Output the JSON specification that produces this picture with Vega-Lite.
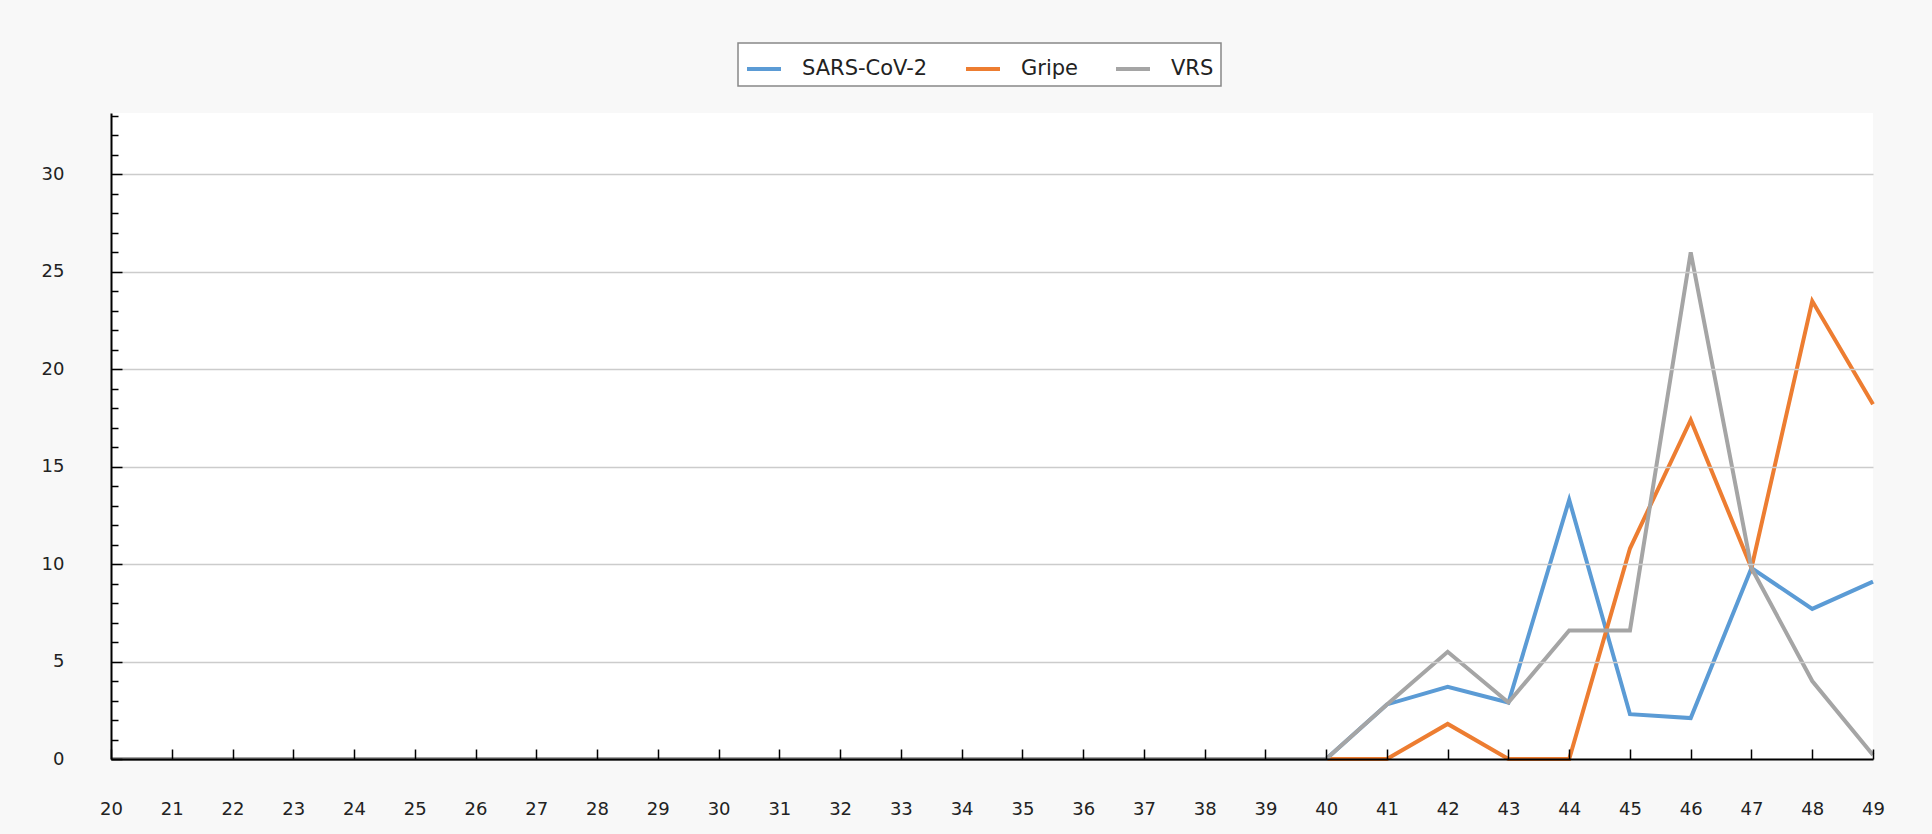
{
  "$schema": "https://vega.github.io/schema/vega-lite/v6.json",
  "width": 1762,
  "height": 646,
  "autosize": {"type": "none"},
  "padding": {"left": 111, "top": 113, "right": 59, "bottom": 75},
  "background": "#f8f8f8",
  "config": {
    "view": {"fill": "white", "stroke": null},
    "font": "DejaVu Sans",
    "legend": {"strokeWidth": 1.5}
  },
  "data": {"values": [
    {"semana": 20, "serie": "SARS-CoV-2", "valor": 0}, {"semana": 21, "serie": "SARS-CoV-2", "valor": 0}, {"semana": 22, "serie": "SARS-CoV-2", "valor": 0}, {"semana": 23, "serie": "SARS-CoV-2", "valor": 0}, {"semana": 24, "serie": "SARS-CoV-2", "valor": 0}, {"semana": 25, "serie": "SARS-CoV-2", "valor": 0}, {"semana": 26, "serie": "SARS-CoV-2", "valor": 0}, {"semana": 27, "serie": "SARS-CoV-2", "valor": 0}, {"semana": 28, "serie": "SARS-CoV-2", "valor": 0}, {"semana": 29, "serie": "SARS-CoV-2", "valor": 0},
    {"semana": 30, "serie": "SARS-CoV-2", "valor": 0}, {"semana": 31, "serie": "SARS-CoV-2", "valor": 0}, {"semana": 32, "serie": "SARS-CoV-2", "valor": 0}, {"semana": 33, "serie": "SARS-CoV-2", "valor": 0}, {"semana": 34, "serie": "SARS-CoV-2", "valor": 0}, {"semana": 35, "serie": "SARS-CoV-2", "valor": 0}, {"semana": 36, "serie": "SARS-CoV-2", "valor": 0}, {"semana": 37, "serie": "SARS-CoV-2", "valor": 0}, {"semana": 38, "serie": "SARS-CoV-2", "valor": 0}, {"semana": 39, "serie": "SARS-CoV-2", "valor": 0},
    {"semana": 40, "serie": "SARS-CoV-2", "valor": 0}, {"semana": 41, "serie": "SARS-CoV-2", "valor": 2.8}, {"semana": 42, "serie": "SARS-CoV-2", "valor": 3.7}, {"semana": 43, "serie": "SARS-CoV-2", "valor": 2.9}, {"semana": 44, "serie": "SARS-CoV-2", "valor": 13.3}, {"semana": 45, "serie": "SARS-CoV-2", "valor": 2.3}, {"semana": 46, "serie": "SARS-CoV-2", "valor": 2.1}, {"semana": 47, "serie": "SARS-CoV-2", "valor": 9.8}, {"semana": 48, "serie": "SARS-CoV-2", "valor": 7.7}, {"semana": 49, "serie": "SARS-CoV-2", "valor": 9.1},
    {"semana": 20, "serie": "Gripe", "valor": 0}, {"semana": 21, "serie": "Gripe", "valor": 0}, {"semana": 22, "serie": "Gripe", "valor": 0}, {"semana": 23, "serie": "Gripe", "valor": 0}, {"semana": 24, "serie": "Gripe", "valor": 0}, {"semana": 25, "serie": "Gripe", "valor": 0}, {"semana": 26, "serie": "Gripe", "valor": 0}, {"semana": 27, "serie": "Gripe", "valor": 0}, {"semana": 28, "serie": "Gripe", "valor": 0}, {"semana": 29, "serie": "Gripe", "valor": 0},
    {"semana": 30, "serie": "Gripe", "valor": 0}, {"semana": 31, "serie": "Gripe", "valor": 0}, {"semana": 32, "serie": "Gripe", "valor": 0}, {"semana": 33, "serie": "Gripe", "valor": 0}, {"semana": 34, "serie": "Gripe", "valor": 0}, {"semana": 35, "serie": "Gripe", "valor": 0}, {"semana": 36, "serie": "Gripe", "valor": 0}, {"semana": 37, "serie": "Gripe", "valor": 0}, {"semana": 38, "serie": "Gripe", "valor": 0}, {"semana": 39, "serie": "Gripe", "valor": 0},
    {"semana": 40, "serie": "Gripe", "valor": 0}, {"semana": 41, "serie": "Gripe", "valor": 0}, {"semana": 42, "serie": "Gripe", "valor": 1.8}, {"semana": 43, "serie": "Gripe", "valor": 0}, {"semana": 44, "serie": "Gripe", "valor": 0}, {"semana": 45, "serie": "Gripe", "valor": 10.8}, {"semana": 46, "serie": "Gripe", "valor": 17.4}, {"semana": 47, "serie": "Gripe", "valor": 9.8}, {"semana": 48, "serie": "Gripe", "valor": 23.5}, {"semana": 49, "serie": "Gripe", "valor": 18.2},
    {"semana": 20, "serie": "VRS", "valor": 0}, {"semana": 21, "serie": "VRS", "valor": 0}, {"semana": 22, "serie": "VRS", "valor": 0}, {"semana": 23, "serie": "VRS", "valor": 0}, {"semana": 24, "serie": "VRS", "valor": 0}, {"semana": 25, "serie": "VRS", "valor": 0}, {"semana": 26, "serie": "VRS", "valor": 0}, {"semana": 27, "serie": "VRS", "valor": 0}, {"semana": 28, "serie": "VRS", "valor": 0}, {"semana": 29, "serie": "VRS", "valor": 0},
    {"semana": 30, "serie": "VRS", "valor": 0}, {"semana": 31, "serie": "VRS", "valor": 0}, {"semana": 32, "serie": "VRS", "valor": 0}, {"semana": 33, "serie": "VRS", "valor": 0}, {"semana": 34, "serie": "VRS", "valor": 0}, {"semana": 35, "serie": "VRS", "valor": 0}, {"semana": 36, "serie": "VRS", "valor": 0}, {"semana": 37, "serie": "VRS", "valor": 0}, {"semana": 38, "serie": "VRS", "valor": 0}, {"semana": 39, "serie": "VRS", "valor": 0},
    {"semana": 40, "serie": "VRS", "valor": 0}, {"semana": 41, "serie": "VRS", "valor": 2.8}, {"semana": 42, "serie": "VRS", "valor": 5.5}, {"semana": 43, "serie": "VRS", "valor": 2.9}, {"semana": 44, "serie": "VRS", "valor": 6.6}, {"semana": 45, "serie": "VRS", "valor": 6.6}, {"semana": 46, "serie": "VRS", "valor": 26.0}, {"semana": 47, "serie": "VRS", "valor": 9.8}, {"semana": 48, "serie": "VRS", "valor": 4.0}, {"semana": 49, "serie": "VRS", "valor": 0.2}
  ]},
  "mark": {"type": "line", "strokeWidth": 4, "clip": false},
  "encoding": {
    "x": {
      "field": "semana", "type": "quantitative",
      "scale": {"domain": [20, 49], "nice": false, "zero": false},
      "axis": {
        "title": null,
        "values": [20,21,22,23,24,25,26,27,28,29,30,31,32,33,34,35,36,37,38,39,40,41,42,43,44,45,46,47,48,49],
        "format": "d",
        "grid": false,
        "tickSize": -10, "tickWidth": 1.5, "tickColor": "black",
        "domainColor": "black", "domainWidth": 2,
        "labelFontSize": 18, "labelColor": "#222222", "labelPadding": 51,
        "labelFlush": false, "labelOverlap": false,
        "zindex": 1
      }
    },
    "y": {
      "field": "valor", "type": "quantitative",
      "scale": {"domain": [0, 33.15], "nice": false},
      "axis": {
        "title": null,
        "values": [0,1,2,3,4,5,6,7,8,9,10,11,12,13,14,15,16,17,18,19,20,21,22,23,24,25,26,27,28,29,30,31,32,33],
        "labelExpr": "datum.value % 5 === 0 ? datum.label : ''",
        "grid": true,
        "gridColor": "#cccccc", "gridWidth": 1.5,
        "gridOpacity": {"condition": {"test": "datum.value % 5 === 0 && datum.value > 0", "value": 1}, "value": 0},
        "tickSize": {"condition": {"test": "datum.value % 5 === 0", "value": -11}, "value": -7},
        "tickWidth": 1.5, "tickColor": "black",
        "domainColor": "black", "domainWidth": 2,
        "labelFontSize": 18, "labelColor": "#222222", "labelPadding": 58,
        "labelFlush": false, "labelOverlap": false,
        "zindex": 1
      }
    },
    "color": {
      "field": "serie", "type": "nominal",
      "scale": {"domain": ["SARS-CoV-2", "Gripe", "VRS"], "range": ["#5b9bd5", "#ed7d31", "#a5a5a5"]},
      "legend": {
        "orient": "none", "legendX": 627, "legendY": -70,
        "direction": "horizontal", "columns": 3,
        "title": null,
        "symbolType": "stroke", "symbolSize": 1156, "symbolStrokeWidth": 4,
        "labelFontSize": 21, "labelColor": "#222222", "labelOffset": 19,
        "columnPadding": 30, "padding": 7,
        "strokeColor": "#888888", "fillColor": "white"
      }
    }
  }
}
